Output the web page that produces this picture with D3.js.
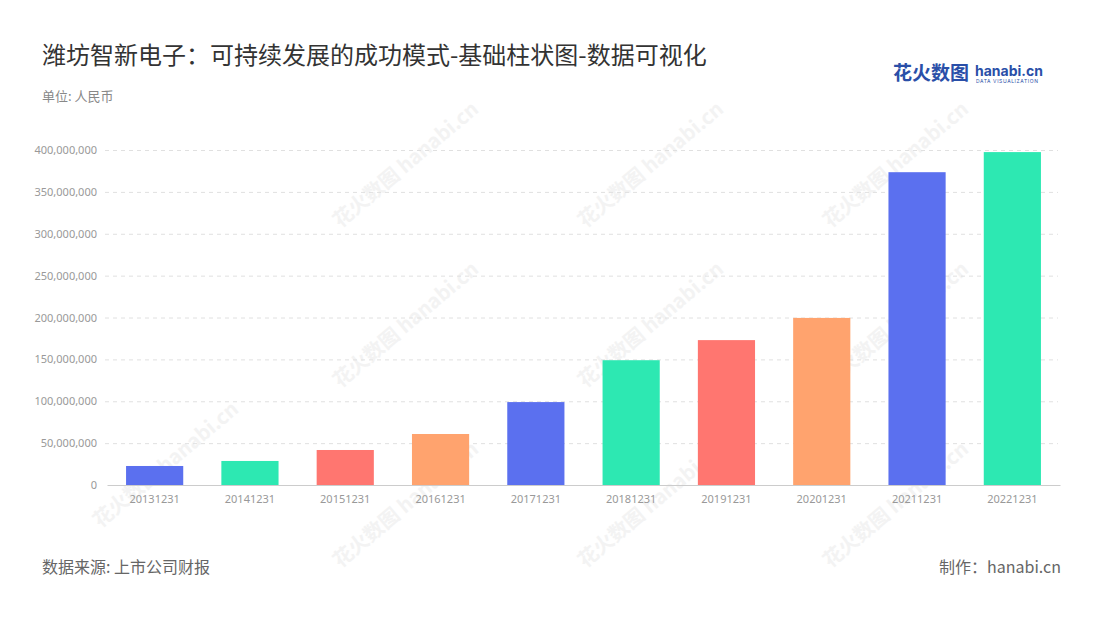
<!DOCTYPE html>
<html><head><meta charset="utf-8">
<script src="https://cdn.jsdelivr.net/npm/d3@7"></script>
<style>body{margin:0;background:#fff;font-family:"Noto Sans CJK SC","Noto Sans",sans-serif}</style>
</head><body><svg id="c" width="1100" height="620"></svg>
<script>
// data
var dates = ["20131231","20141231","20151231","20161231","20171231","20181231","20191231","20201231","20211231","20221231"];
var values = [22700000,28700000,41800000,60900000,99000000,149000000,173000000,199500000,373500000,397500000];
var palette = ["#5b70ef","#2de8b2","#ff7670","#ffa36e"];
var yTicks = [0,50000000,100000000,150000000,200000000,250000000,300000000,350000000,400000000];

var svg = d3.select("#c");
var m = {l:107, r:1060, t:150, b:485};

// watermark
var wm = svg.append("g").attr("fill","#ececec").attr("font-weight","bold");
[[410,170],[655,170],[900,170],[410,330],[655,330],[900,330],[170,470],[410,510],[655,510],[900,510]].forEach(function(p){
  wm.append("text").attr("transform","translate("+p[0]+","+p[1]+") rotate(-40)")
    .attr("font-size",20).attr("text-anchor","middle").attr("opacity",0.6).text("花火数图 hanabi.cn");
});

svg.append("text").attr("x",42).attr("y",64).attr("font-size",24).attr("fill","#333").text("潍坊智新电子：可持续发展的成功模式-基础柱状图-数据可视化");
svg.append("text").attr("x",42).attr("y",101).attr("font-size",13).attr("fill","#888").text("单位: 人民币");
svg.append("text").attr("x",893).attr("y",80).attr("font-size",19).attr("font-weight","bold").attr("fill","#2a4fa8").text("花火数图");
svg.append("text").attr("x",975).attr("y",76).attr("font-size",14).attr("font-weight","bold").attr("fill","#2a4fa8").attr("font-family","Inter,sans-serif").text("hanabi.cn");
svg.append("text").attr("x",976).attr("y",83).attr("font-size",5).attr("fill","#2a4fa8").attr("font-family","Inter,sans-serif").attr("letter-spacing",0.6).text("DATA VISUALIZATION");
svg.append("text").attr("x",42).attr("y",573).attr("font-size",16).attr("fill","#666").text("数据来源: 上市公司财报");
svg.append("text").attr("x",1061).attr("y",573).attr("font-size",16).attr("fill","#666").attr("text-anchor","end").text("制作：hanabi.cn");

var x = d3.scaleBand().domain(dates).range([m.l,m.r]).paddingInner(0.4).paddingOuter(0.2);
var y = d3.scaleLinear().domain([0,400000000]).range([m.b,m.t]);

var gy = svg.append("g").attr("transform","translate(105,0)")
  .call(d3.axisLeft(y).tickValues(yTicks).tickSize(0).tickPadding(8).tickFormat(d3.format(",")));
gy.select(".domain").remove();
gy.selectAll("text").attr("fill","#999").attr("font-size",11).attr("font-family","Noto Sans");
svg.append("g").selectAll("line").data(yTicks.slice(1)).join("line")
  .attr("x1",105).attr("x2",1058).attr("y1",function(d){return y(d)+0.5}).attr("y2",function(d){return y(d)+0.5})
  .attr("stroke","#e0e0e0").attr("stroke-dasharray","4,4");

svg.append("g").selectAll("rect").data(values).join("rect")
  .attr("x",function(d,i){return x(dates[i])}).attr("width",x.bandwidth())
  .attr("y",function(d){return y(d)}).attr("height",function(d){return m.b-y(d)})
  .attr("fill",function(d,i){return palette[i%4]});

var gx = svg.append("g").attr("transform","translate(0,"+m.b+")")
  .call(d3.axisBottom(x).tickSize(0).tickPadding(10));
gx.select(".domain").attr("stroke","#ccc");
gx.selectAll("text").attr("fill","#999").attr("font-size",11).attr("font-family","Noto Sans");
</script></body></html>
